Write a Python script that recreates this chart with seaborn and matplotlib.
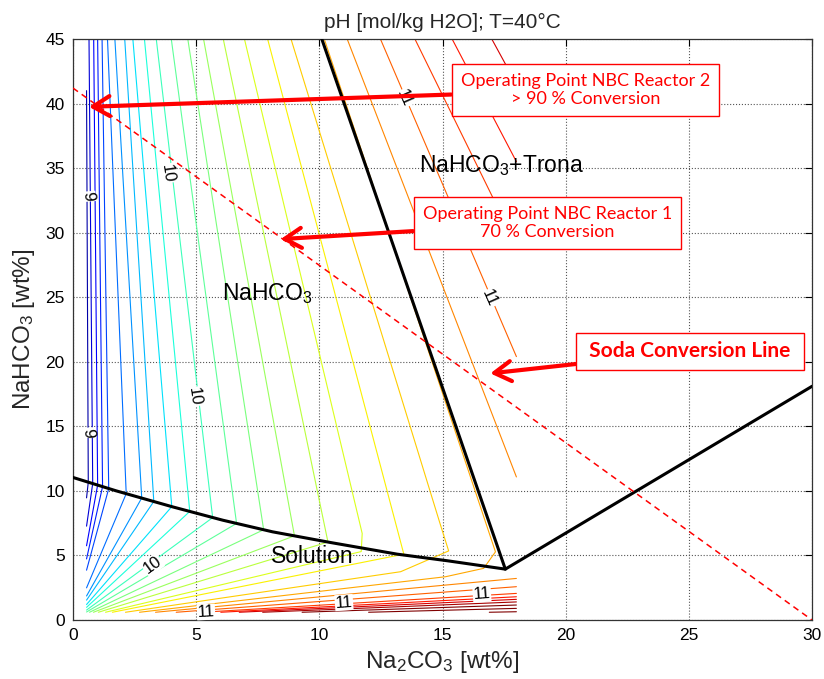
import numpy as np
import pandas as pd
import matplotlib
matplotlib.use("Agg")
import matplotlib.pyplot as plt
import seaborn as sns

# ---------------- data ----------------
# main pH isolines: top of plot -> (optional mid) -> kink at solubility line -> (optional knee) -> end near origin
main_levels = [9.0, 9.1, 9.2, 9.3, 9.4, 9.5, 9.6, 9.7, 9.8, 9.9,
               10.0, 10.1, 10.2, 10.3, 10.4, 10.5, 10.6, 10.7, 10.8]
top_x = [0.55, 0.65, 0.84, 1.00, 1.18, 1.40, 1.70, 2.10, 2.43, 2.90,
         3.38, 3.99, 4.66, 5.30, 6.10, 6.96, 7.90, 8.85, 10.20]
top_y = [41.0, 45.0, 45.0, 45.0, 45.0, 45.0, 45.0, 45.0, 45.0, 45.0,
         45.0, 45.0, 45.0, 45.0, 45.0, 45.0, 45.0, 45.0, 45.0]
nan = float("nan")
mid_x = [nan, nan, nan, nan, nan, nan, nan, nan, nan, nan,
         nan, nan, nan, nan, nan, 11.74, nan, 14.90, 17.15]
mid_y = [nan, nan, nan, nan, nan, nan, nan, nan, nan, nan,
         nan, nan, nan, nan, nan, 6.70, nan, 7.47, 5.28]
kink_x = [0.62, 0.80, 1.00, 1.20, 1.45, 2.16, 2.79, 3.28, 4.01, 4.74,
          5.67, 6.64, 7.74, 8.99, 10.35, 11.70, 13.43, 15.25, 16.67]
kink_y = [10.67, 10.57, 10.45, 10.33, 10.18, 9.78, 9.45, 9.18, 8.78, 8.41,
          7.93, 7.48, 6.99, 6.52, 6.04, 5.30, 5.10, 5.35, 4.00]
knee_x = [nan, nan, nan, nan, nan, nan, nan, nan, nan, nan,
          nan, nan, nan, nan, nan, nan, nan, 13.30, 15.12]
knee_y = [nan, nan, nan, nan, nan, nan, nan, nan, nan, nan,
          nan, nan, nan, nan, nan, nan, nan, 3.74, 3.35]
end_x = [0.55, 0.55, 0.55, 0.55, 0.55, 0.55, 0.55, 0.55, 0.55, 0.55,
         0.55, 0.55, 0.67, 0.83, 1.03, 1.32, 1.60, 2.13, 2.70]
end_y = [9.46, 7.27, 5.75, 4.73, 3.86, 2.49, 1.86, 1.54, 1.20, 0.98,
         0.77, 0.62, 0.60, 0.60, 0.60, 0.60, 0.60, 0.60, 0.60]

# isolines in the NaHCO3+Trona field (top edge -> right edge of data at x=18)
tr_levels = [10.9, 11.0, 11.1, 11.2, 11.3]
tr_top_x = [11.13, 12.48, 13.88, 15.39, 17.00]
tr_top_y = [45.0, 45.0, 45.0, 45.0, 45.0]
tr_end_x = [18.0, 18.0, 18.0, 18.0, 18.0]
tr_end_y = [11.08, 20.40, 29.00, 35.50, 41.50]

# high-pH isolines along the bottom (right edge x=18 -> bottom edge)
bot_levels = [10.9, 11.0, 11.1, 11.2, 11.3, 11.4, 11.5, 11.6, 11.7]
bot_right_x = [18.0, 18.0, 18.0, 18.0, 18.0, 18.0, 18.0, 18.0, 18.0]
bot_right_y = [3.22, 2.58, 2.06, 1.80, 1.60, 1.40, 1.16, 0.90, 0.64]
bot_left_x = [3.35, 4.19, 5.24, 6.00, 6.75, 7.70, 9.30, 12.00, 16.90]
bot_left_y = [0.60, 0.60, 0.60, 0.60, 0.60, 0.60, 0.60, 0.60, 0.60]

# phase boundaries
sol_x = [0.0, 1.76, 4.05, 6.08, 8.10, 10.46, 13.16, 15.19, 17.55, 30.0]
sol_y = [11.04, 10.00, 8.76, 7.73, 6.83, 6.00, 5.10, 4.59, 3.94, 18.10]
trona_x = [10.10, 17.55]
trona_y = [45.0, 3.94]
conv_x = [0.0, 30.0]
conv_y = [41.2, 0.0]

# contour labels
clab_text = ["9", "9", "10", "10", "10", "11", "11", "11", "11", "11"]
clab_x = [0.60, 0.62, 3.85, 4.92, 3.23, 13.45, 16.90, 5.40, 11.00, 16.60]
clab_y = [32.8, 14.5, 34.6, 17.3, 4.25, 40.4, 24.9, 0.62, 1.35, 2.00]
clab_rot = [-85, -85, -82, -82, 36, -66, -66, 3, 4, 4]

# region labels
reg_text = ["NaHCO$_3$+Trona", "NaHCO$_3$", "Solution"]
reg_x = [14.05, 6.05, 8.05]
reg_y = [34.7, 24.75, 4.4]

# annotation boxes
ann_text = ["Operating Point NBC Reactor 2\n> 90 % Conversion",
            "Operating Point NBC Reactor 1\n70 % Conversion",
            " Soda Conversion Line "]
ann_box_x = [20.8, 19.25, 25.05]
ann_box_y = [41.05, 30.75, 20.8]
ann_tip_x = [0.65, 8.43, 16.94]
ann_tip_y = [39.75, 29.5, 19.1]
ann_bold = [False, False, True]

# ---------------- build long table for seaborn ----------------
rows = []
for i, lev in enumerate(main_levels):
    xs = [top_x[i], mid_x[i], kink_x[i], knee_x[i], end_x[i]]
    ys = [top_y[i], mid_y[i], kink_y[i], knee_y[i], end_y[i]]
    for j, (px, py) in enumerate(zip(xs, ys)):
        if not np.isnan(px):
            rows.append(dict(piece=f"m{i}", order=j, level=lev, x=px, y=py))
for i, lev in enumerate(tr_levels):
    rows.append(dict(piece=f"t{i}", order=0, level=lev, x=tr_top_x[i], y=tr_top_y[i]))
    rows.append(dict(piece=f"t{i}", order=1, level=lev, x=tr_end_x[i], y=tr_end_y[i]))
for i, lev in enumerate(bot_levels):
    rows.append(dict(piece=f"b{i}", order=0, level=lev, x=bot_right_x[i], y=bot_right_y[i]))
    rows.append(dict(piece=f"b{i}", order=1, level=lev, x=bot_left_x[i], y=bot_left_y[i]))
iso = pd.DataFrame(rows)

bnd = pd.concat([
    pd.DataFrame(dict(x=sol_x, y=sol_y, part="sol")),
    pd.DataFrame(dict(x=trona_x, y=trona_y, part="trona")),
], ignore_index=True)
conv = pd.DataFrame(dict(x=conv_x, y=conv_y))

# ---------------- style ----------------
sns.set_style("white")
plt.rcParams["font.family"] = ["Liberation Sans", "DejaVu Sans"]
plt.rcParams["mathtext.fontset"] = "custom"
plt.rcParams["mathtext.rm"] = "Liberation Sans"
plt.rcParams["mathtext.it"] = "Liberation Sans:italic"
plt.rcParams["mathtext.bf"] = "Liberation Sans:bold"
plt.rcParams["mathtext.default"] = "regular"

fig = plt.figure(figsize=(8.24, 6.79), dpi=100)
ax = fig.add_axes([73 / 824, 59 / 679, 739 / 824, 581 / 679])

jet = matplotlib.colormaps["jet"]
sns.lineplot(data=iso, x="x", y="y", hue="level", units="piece", estimator=None,
             sort=False, palette=jet, hue_norm=(8.9, 11.5), legend=False,
             linewidth=0.8, ax=ax, zorder=2)

sns.lineplot(data=bnd, x="x", y="y", units="part", estimator=None, sort=False,
             color="black", linewidth=2.2, ax=ax, zorder=4, legend=False)
sns.lineplot(data=conv, x="x", y="y", sort=False, estimator=None, color="red",
             linewidth=1.1, ax=ax, zorder=4, legend=False)
ax.lines[-1].set_dashes([4, 3])

for t, x, y, r in zip(clab_text, clab_x, clab_y, clab_rot):
    ax.text(x, y, t, rotation=r, rotation_mode="anchor", ha="center", va="center",
            fontsize=12, color="black", zorder=3,
            bbox=dict(boxstyle="square,pad=0.03", fc="white", ec="none"))

for t, x, y in zip(reg_text, reg_x, reg_y):
    ax.text(x, y, t, ha="left", va="baseline", fontsize=16.5, color="black", zorder=5)

for t, bx, by, tx, ty, b in zip(ann_text, ann_box_x, ann_box_y, ann_tip_x, ann_tip_y, ann_bold):
    ax.annotate(t, xy=(tx, ty), xytext=(bx, by), textcoords="data",
                ha="center", va="center", multialignment="center",
                color="red", fontsize=15 if b else 13, fontweight="bold" if b else "normal",
                family=["Lato", "DejaVu Sans"], linespacing=1.15, zorder=6,
                bbox=dict(boxstyle="square,pad=0.4" if b else "square,pad=0.5",
                          fc="white", ec="red", lw=1.0),
                arrowprops=dict(arrowstyle="->,head_length=0.5,head_width=0.3",
                                color="red", lw=3, mutation_scale=24,
                                shrinkA=0, shrinkB=0))

ax.set_xlim(0, 30)
ax.set_ylim(0, 45)
ax.set_xticks(np.arange(0, 31, 5))
ax.set_yticks(np.arange(0, 46, 5))
ax.tick_params(direction="in", length=5, width=0.8, top=True, right=True,
               labelsize=12.5, colors="black", pad=6)
ax.grid(True, linestyle=":", color="#555555", linewidth=0.8)
ax.set_axisbelow(True)
for s in ax.spines.values():
    s.set_color("#333333")
    s.set_linewidth(0.9)

ax.set_title("pH [mol/kg H2O]; T=40°C", fontsize=15, pad=8)
ax.set_xlabel("Na$_2$CO$_3$ [wt%]", fontsize=17.5, labelpad=4)
ax.set_ylabel("NaHCO$_3$ [wt%]", fontsize=17.5, labelpad=6)

fig.savefig("out.png", dpi=100)
